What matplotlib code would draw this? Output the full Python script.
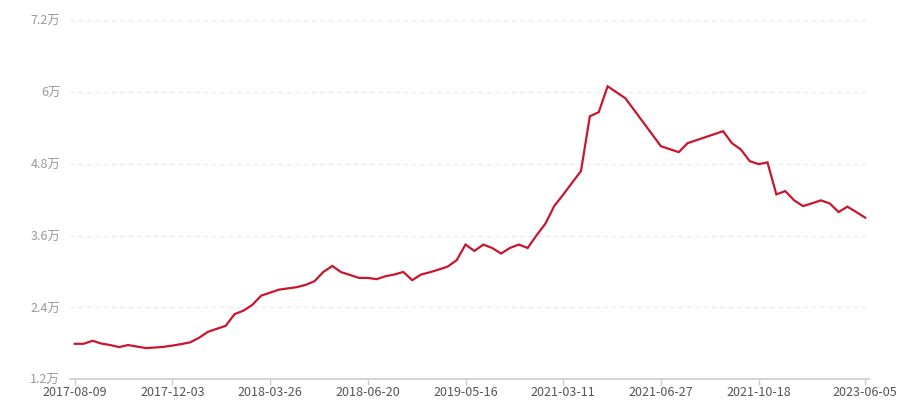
import matplotlib
matplotlib.use("Agg")
import matplotlib.pyplot as plt
from matplotlib.ticker import FuncFormatter, MultipleLocator

plt.rcParams['font.family'] = ['Noto Sans CJK SC', 'DejaVu Sans']

# values (one per category, evenly spaced)
values = [
    17930, 17930, 18430, 17970, 17720, 17380, 17720, 17470, 17220, 17300,
    17420, 17630, 17880, 18170, 18930, 19930, 20430, 20930, 22880, 23470,
    24430, 25970, 26470, 26970, 27180, 27380, 27770, 28380, 29930, 30930,
    29880, 29430, 28930, 28930, 28720, 29220, 29500, 29930, 28550, 29500,
    29880, 30330, 30830, 31880, 34500, 33430, 34500, 33930, 33000, 33930,
    34500, 33930, 36050, 38000, 40970, 42830, 44830, 46770, 55930, 56600,
    60930, 59930, 58930, 56930, 54930, 52930, 50930, 50430, 49930, 51430,
    51930, 52430, 52930, 53430, 51430, 50380, 48430, 47930, 48220, 42880,
    43430, 41880, 40930, 41380, 41880, 41380, 39930, 40830, 39930, 39000,
]
# labelled categories and their position in the series
tick_pos = [0, 11, 22, 33, 44, 55, 66, 77, 89]
tick_labels = ['2017-08-09', '2017-12-03', '2018-03-26', '2018-06-20',
               '2019-05-16', '2021-03-11', '2021-06-27', '2021-10-18',
               '2023-06-05']

x = list(range(len(values)))

fig = plt.figure(figsize=(9, 4), dpi=100)
ax = fig.add_axes([70 / 900, 1 - 379.3 / 400, 799 / 900, 359.3 / 400])

ax.plot(x, values, color='#c8162d', linewidth=1.6, solid_joinstyle='miter')

ax.set_xlim(-0.53, 89.43)
ax.set_ylim(12000, 72000)
ax.yaxis.set_major_locator(MultipleLocator(12000))


def wan(v, pos):
    s = ('%.1f' % (v / 10000)).rstrip('0').rstrip('.')
    return s + '万'


ax.yaxis.set_major_formatter(FuncFormatter(wan))
ax.set_xticks(tick_pos)
ax.set_xticklabels(tick_labels)

ax.grid(axis='y', color='#ebebeb', linestyle=(0, (3, 3)), linewidth=1)
ax.set_axisbelow(True)
for s in ['top', 'right', 'left']:
    ax.spines[s].set_visible(False)
ax.spines['bottom'].set_color('#d4d4d4')
ax.spines['bottom'].set_linewidth(1.5)

ax.tick_params(axis='x', length=4, width=1, color='#cccccc',
               labelsize=9, labelcolor='#555555', pad=1)
ax.tick_params(axis='y', length=0, labelsize=9, labelcolor='#999999', pad=7)

fig.savefig('out.png', dpi=100)
